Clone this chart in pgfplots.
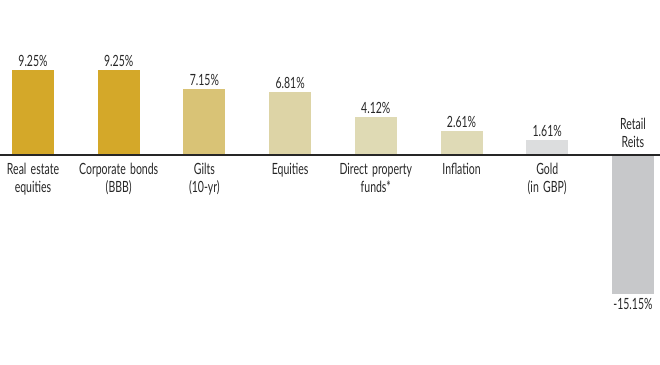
\documentclass[border=0pt]{standalone}
\usepackage{pgfplots}
\pgfplotsset{compat=1.18}
\usepackage{fontspec}
\setmainfont{Lato}[FakeStretch=0.68, WordSpace=1.6]
\definecolor{cA}{HTML}{D4A829}
\definecolor{cB}{HTML}{D4A829}
\definecolor{cC}{HTML}{D9C376}
\definecolor{cD}{HTML}{DDD4A6}
\definecolor{cE}{HTML}{DFDAB4}
\definecolor{cF}{HTML}{DFDAB6}
\definecolor{cG}{HTML}{DCDDDE}
\definecolor{cH}{HTML}{C7C8CA}
\begin{document}
\begin{tikzpicture}
\begin{axis}[
  scale only axis, width=660bp, height=365bp,
  xmin=-0.385, xmax=7.316, ymin=-22.85, ymax=16.87,
  hide axis, clip=false,
  ybar, bar width=42bp, bar shift=0pt,
  /pgf/number format/assume math mode=true,
  nodes near coords={\pgfmathprintnumber[fixed,fixed zerofill,precision=2]{\pgfplotspointmeta}\%},
  nodes near coords style={font=\fontsize{15.5}{17}\selectfont, text=black!85, inner sep=3.5pt},
]
\addplot[fill=cA, draw=none] coordinates {(0,9.25)};
\addplot[fill=cB, draw=none] coordinates {(1,9.25)};
\addplot[fill=cC, draw=none] coordinates {(2,7.15)};
\addplot[fill=cD, draw=none] coordinates {(3,6.81)};
\addplot[fill=cE, draw=none] coordinates {(4,4.12)};
\addplot[fill=cF, draw=none] coordinates {(5,2.61)};
\addplot[fill=cG, draw=none] coordinates {(6,1.61)};
\addplot[fill=cH, draw=none] coordinates {(7,-15.15)};
\draw[line width=1.2pt, black!85] (axis cs:-0.385,0) -- (axis cs:7.316,0);
\tikzset{cat/.style={anchor=north, align=center, font=\fontsize{15.5}{18}\selectfont, text=black!85, inner sep=0pt}}
\node[cat] at ([yshift=-8bp]axis cs:0,0) {Real estate\\equities};
\node[cat] at ([yshift=-8bp]axis cs:1,0) {Corporate bonds\\(BBB)};
\node[cat] at ([yshift=-8bp]axis cs:2,0) {Gilts\\(10-yr)};
\node[cat] at ([yshift=-8bp]axis cs:3,0) {Equities};
\node[cat] at ([yshift=-8bp]axis cs:4,0) {Direct property\\funds*};
\node[cat] at ([yshift=-8bp]axis cs:5,0) {Inflation};
\node[cat] at ([yshift=-8bp]axis cs:6,0) {Gold\\(in GBP)};
\node[cat, anchor=south] at ([yshift=7bp]axis cs:7,0) {Retail\\Reits};
\end{axis}
\pgfresetboundingbox
\path[use as bounding box] (0,0) rectangle (660bp,365bp);
\end{tikzpicture}
\end{document}
